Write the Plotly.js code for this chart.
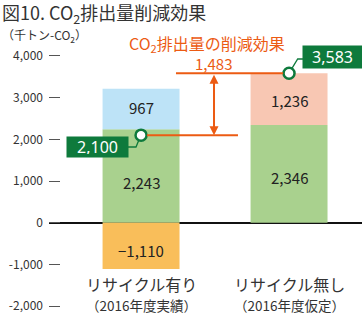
<!DOCTYPE html>
<html><head><meta charset="utf-8">
<script src="https://cdn.plot.ly/plotly-3.0.1.min.js"></script>
<style>html,body{margin:0;padding:0;background:#fff}#c{width:362px;height:314px}</style>
</head><body><div id="c"></div>
<script>
const categories = ['リサイクル有り', 'リサイクル無し'];
const subLabels = ['（2016年度実績）', '（2016年度仮定）'];
const greenVals = [2243, 2346];
const blueVals = [967, null];
const pinkVals = [null, 1236];
const orangeVals = [-1110, null];
const greenText = ['2,243', '2,346'];
const blueText = ['967', ''];
const pinkText = ['', '1,236'];
const orangeText = ['−1,110', ''];
const netVals = [2100, 3583];
const netText = ['2,100', '3,583'];
const reduction = 1483;
const reductionText = '1,483';
const yTickVals = [-2000, -1000, 0, 1000, 2000, 3000, 4000];
const yTickText = ['-2,000', '-1,000', '0', '1,000', '2,000', '3,000', '4,000'];

const FONT = '"Noto Sans CJK JP", "Noto Sans", sans-serif';
const C_GREEN = '#a9d18e', C_BLUE = '#bde3f7', C_PINK = '#f8c7b3', C_ORANGE = '#f9be5a';
const C_DARK = '#0e7a3c', C_ACC = '#ec5b13', C_TXT = '#333333';

// plot area geometry (pixels)
const L = 49, T = 43, W = 313, H = 271;
const px = x => (x - L) / W;
const py = y => (T + H - y) / H;

const barTrace = (vals, color) => ({
  type: 'bar', x: categories, y: vals, marker: {color: color, line: {width: 0}},
  hoverinfo: 'skip', showlegend: false
});

const data = [
  barTrace(greenVals, C_GREEN),
  barTrace(blueVals, C_BLUE),
  barTrace(pinkVals, C_PINK),
  barTrace(orangeVals, C_ORANGE),
  {type: 'scatter', mode: 'markers', x: categories, y: netVals,
   marker: {symbol: 'circle', size: 11, color: '#ffffff', line: {color: C_DARK, width: 2.5}},
   hoverinfo: 'skip', showlegend: false, cliponaxis: false}
];

const mid = (a, b) => a + b / 2;
const barLabel = (x, y, text, yshift) => ({
  x: x, y: y, xref: 'x', yref: 'y', text: text, showarrow: false, yshift: yshift,
  font: {family: FONT, size: 15, color: '#222'}
});

const annotations = [
  barLabel(categories[0], mid(0, greenVals[0]), greenText[0], -7),
  barLabel(categories[1], mid(0, greenVals[1]), greenText[1], -4),
  barLabel(categories[0], mid(greenVals[0], blueVals[0]), blueText[0], 2),
  barLabel(categories[1], mid(greenVals[1], pinkVals[1]), pinkText[1], -1),
  barLabel(categories[0], orangeVals[0] / 2, orangeText[0], -5),
  // category labels
  {xref: 'x', yref: 'paper', x: categories[0], y: py(284), text: categories[0], showarrow: false,
   font: {family: FONT, size: 16, color: C_TXT}, yanchor: 'middle'},
  {xref: 'x', yref: 'paper', x: categories[1], y: py(284), text: categories[1], showarrow: false,
   font: {family: FONT, size: 16, color: C_TXT}, yanchor: 'middle'},
  {xref: 'x', yref: 'paper', x: categories[0], y: py(305), text: subLabels[0], showarrow: false,
   font: {family: FONT, size: 13.5, color: C_TXT}, yanchor: 'middle'},
  {xref: 'x', yref: 'paper', x: categories[1], y: py(305), text: subLabels[1], showarrow: false,
   font: {family: FONT, size: 13.5, color: C_TXT}, yanchor: 'middle'},
  // y unit
  {xref: 'paper', yref: 'paper', x: px(0), y: py(36), xanchor: 'left', yanchor: 'middle',
   text: '（千トン-CO<sub>2</sub>）', showarrow: false, font: {family: FONT, size: 12, color: C_TXT}},
  // orange heading
  {xref: 'paper', yref: 'paper', x: px(207), y: py(44), xanchor: 'center', yanchor: 'middle',
   text: 'CO<sub>2</sub>排出量の削減効果', showarrow: false, font: {family: FONT, size: 16, color: C_ACC}},
  {xref: 'paper', yref: 'paper', x: px(213), y: py(63), xanchor: 'center', yanchor: 'middle',
   text: reductionText, showarrow: false, font: {family: FONT, size: 15, color: C_ACC}},
  // double arrow between net values
  {xref: 'x', yref: 'y', axref: 'x', ayref: 'y', x: 0.493, y: netVals[0], ax: 0.493, ay: netVals[0] + reduction,
   text: '', showarrow: true, arrowside: 'end+start', arrowhead: 2, startarrowhead: 2,
   arrowsize: 0.9, startarrowsize: 0.9, arrowwidth: 2, arrowcolor: C_ACC, standoff: 0, startstandoff: 0},
  // value boxes
  {xref: 'paper', yref: 'paper', x: px(97.5), y: py(147), xanchor: 'center', yanchor: 'middle',
   text: netText[0], showarrow: false, bgcolor: C_DARK, width: 55, height: 14, borderpad: 3,
   font: {family: '"Noto Sans", sans-serif', size: 16, color: '#ffffff'}},
  {xref: 'paper', yref: 'paper', x: px(332.5), y: py(57), xanchor: 'center', yanchor: 'middle',
   text: netText[1], showarrow: false, bgcolor: C_DARK, width: 53, height: 16, borderpad: 3,
   font: {family: '"Noto Sans", sans-serif', size: 16, color: '#ffffff'}}
];

const shapes = [
  {type: 'line', xref: 'x', yref: 'y', x0: 0.236, x1: 0.96, y0: netVals[1], y1: netVals[1],
   line: {color: C_ACC, width: 2}, layer: 'above'},
  {type: 'line', xref: 'x', yref: 'y', x0: 0.04, x1: 0.655, y0: netVals[0], y1: netVals[0],
   line: {color: C_ACC, width: 2}, layer: 'above'},
  {type: 'path', xref: 'paper', yref: 'paper',
   path: `M${px(138.7)},${py(140.5)} L${px(136)},${py(147)} L${px(128)},${py(147)}`,
   line: {color: C_DARK, width: 1.3}, layer: 'above'},
  {type: 'path', xref: 'paper', yref: 'paper',
   path: `M${px(292.1)},${py(68.2)} L${px(297.7)},${py(59)} L${px(303)},${py(59)}`,
   line: {color: C_DARK, width: 1.3}, layer: 'above'}
];

const layout = {
  width: 362, height: 314,
  margin: {l: L, r: 0, t: T, b: 0},
  paper_bgcolor: '#ffffff', plot_bgcolor: '#ffffff',
  font: {family: FONT, color: C_TXT},
  title: {text: '図10. CO<sub>2</sub>排出量削減効果', xref: 'container', yref: 'container',
          x: 2 / 362, xanchor: 'left', y: 1 - 13.5 / 314, yanchor: 'middle',
          font: {family: FONT, size: 18, color: C_TXT}},
  barmode: 'relative', bargap: 0.48,
  xaxis: {type: 'category', range: [-0.622, 1.493], showticklabels: false, ticks: '',
          showgrid: false, zeroline: false, showline: false, fixedrange: true},
  yaxis: {range: [-2190, 4310], tickvals: yTickVals, ticktext: yTickText,
          ticks: 'inside', ticklen: 11, tickwidth: 1, tickcolor: '#555',
          ticklabelstandoff: 5,
          tickfont: {family: FONT, size: 12, color: C_TXT},
          showgrid: false, showline: false, zeroline: true, zerolinecolor: '#111', zerolinewidth: 2,
          fixedrange: true},
  annotations: annotations, shapes: shapes, hovermode: false, showlegend: false
};

Plotly.newPlot('c', data, layout, {displayModeBar: false, staticPlot: true});
</script></body></html>
